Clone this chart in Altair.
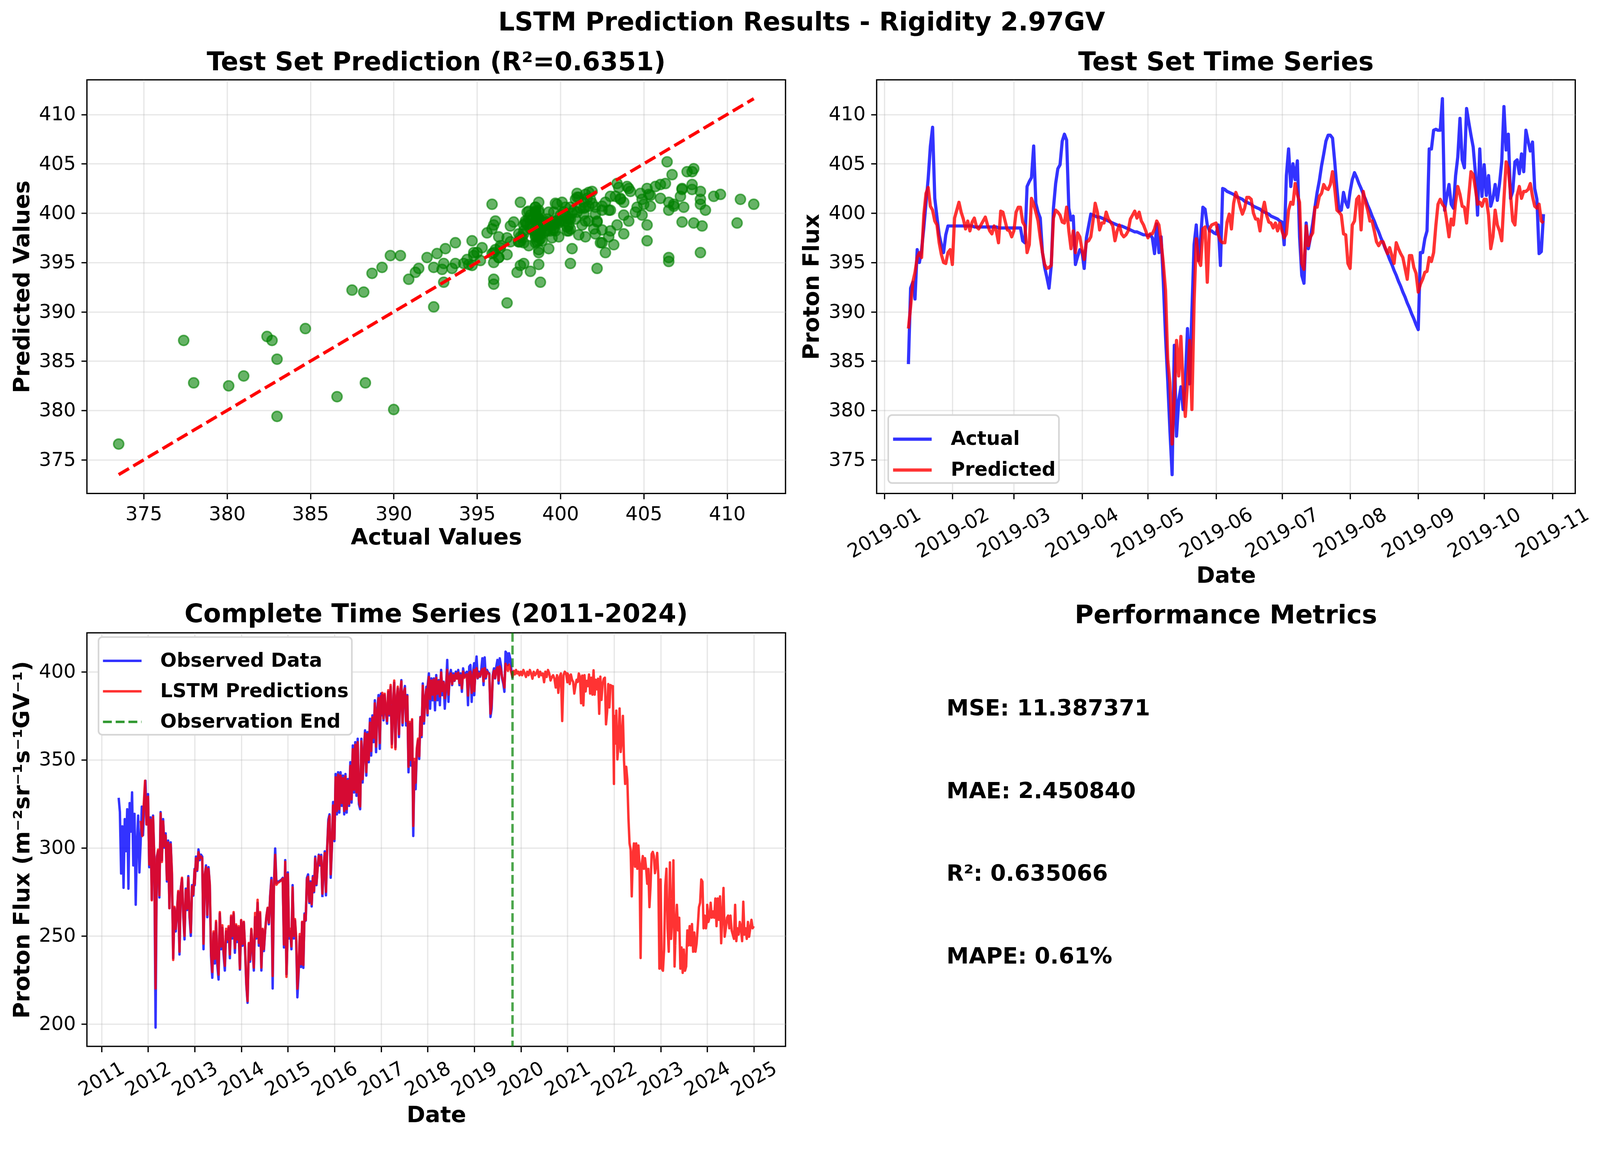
import altair as alt
import pandas as pd

FONT = "DejaVu Sans"
BLUE, RED, GREEN = "#0000ff", "#ff0000", "#008000"

# ---- test set, one value per day starting 2019-01-12 ----
test_start = "2019-01-12"
test_actual = [
    384.7, 392.4, 393.0, 391.3, 396.3, 395.0, 396.3, 398.5, 401.0, 403.5, 406.8, 408.7, 401.5, 399.6, 397.8, 396.8, 396.0, 397.8, 398.7,
    398.7, 398.7, 398.7, 398.7, 398.7, 398.7, 398.7, 398.7, 398.7, 398.7, 398.7, 398.6, 398.6, 398.6, 398.6, 398.6, 398.6, 398.6, 398.6,
    398.6, 398.6, 398.6, 398.5, 398.5, 398.5, 398.5, 398.5, 398.5, 398.5, 398.5, 398.5, 398.5, 398.5,
    397.2, 397.0, 402.7, 403.2, 403.6, 406.8, 401.0, 400.1, 399.5, 396.0, 394.5, 393.5, 392.4, 394.7, 400.5, 403.0, 404.5, 404.9,
    407.3, 408.0, 407.4, 400.5, 399.3, 399.7, 394.8, 395.6, 396.3, 396.1, 394.4, 397.5, 398.7, 399.9,
    399.8, 399.7, 399.6, 399.6, 399.5, 399.4, 399.3, 399.2, 399.1, 399.0, 398.9, 398.8, 398.7, 398.7, 398.6, 398.5, 398.4, 398.3,
    398.2, 398.1, 398.1, 398.0, 397.9, 397.8, 397.8, 397.7,
    397.8, 397.5, 395.9, 398.9, 396.0, 397.6, 393.0, 387.5, 383.0, 378.0, 373.5, 386.6, 377.4, 381.0, 382.4, 380.1, 383.0, 388.3,
    382.7, 390.0, 396.8, 398.8, 395.2, 397.6, 400.6, 400.4, 398.8, 398.2, 398.2, 398.0, 397.9, 398.8, 394.7,
    402.5, 402.4, 402.2, 402.1, 402.0, 401.9, 401.7, 401.6, 401.5, 401.4, 401.2, 401.1, 401.0, 400.9, 400.7, 400.6, 400.5, 400.4,
    400.2, 400.1, 400.0, 399.9, 399.7, 399.6, 399.5, 399.4, 399.2,
    399.1, 396.8, 403.8, 406.5, 402.7, 405.0, 403.4, 405.3, 397.6, 393.7, 392.9, 399.0, 396.4, 397.6, 399.0, 400.6, 402.1, 403.3,
    404.8, 406.0, 407.3, 407.9, 407.9, 407.6, 405.2, 402.5, 400.2, 400.3, 402.1, 401.1, 400.6, 402.2, 403.4, 404.1,
    403.6, 403.0, 402.5, 401.9, 401.4, 400.8, 400.3, 399.7, 399.2, 398.6, 398.1, 397.5, 397.0, 396.4, 395.9, 395.3, 394.8, 394.2,
    393.7, 393.1, 392.6, 392.0, 391.5, 390.9, 390.4, 389.8, 389.3, 388.7, 388.2,
    396.0, 396.0, 397.4, 398.2, 406.5, 406.5, 408.4, 408.5, 408.4, 408.4, 411.6, 400.3, 401.7, 402.9, 400.9, 400.5, 403.8, 405.7,
    409.6, 405.4, 404.6, 410.6, 409.2, 407.9, 406.7, 404.1, 399.8, 406.5, 401.7, 404.9, 401.8, 403.8, 400.7, 401.5, 402.9, 401.3,
    403.0, 405.2, 410.8, 406.4, 408.0, 401.5, 402.2, 405.2, 405.4, 404.0, 406.0, 404.2, 408.4, 407.3, 406.3, 407.2, 402.5, 401.4,
    395.9, 396.1, 399.9,
]
test_pred = [
    388.3, 390.5, 393.0, 394.0, 395.5, 396.0, 395.5, 399.8, 402.0, 402.6, 400.7, 400.3, 399.2, 398.8, 397.0, 395.8, 395.0, 394.9, 396.0,
    396.3, 394.8, 399.5, 400.3, 401.1, 400.1, 399.4, 398.4, 399.2, 398.2, 399.1, 399.5, 398.6, 398.4, 398.8, 399.2, 399.6, 398.8,
    398.2, 397.9, 398.7, 398.2, 397.0, 400.2, 400.1, 399.2, 398.3, 398.2, 397.6, 398.2, 400.1, 400.6, 400.6,
    399.1, 398.7, 396.0, 396.8, 401.5, 400.9, 400.1, 399.2, 397.5, 396.0, 394.8, 394.4, 394.5, 394.7, 399.5, 400.3, 400.1, 399.8,
    399.1, 399.0, 400.6, 398.2, 396.4, 398.2, 396.0, 398.0, 397.6, 396.3, 395.3, 397.1, 397.2, 397.6,
    399.2, 401.0, 400.1, 398.3, 399.0, 399.0, 400.1, 399.4, 399.1, 398.7, 397.2, 398.2, 398.8, 397.9, 397.6, 397.8, 398.2, 399.4,
    399.8, 400.2, 399.5, 400.1, 399.2, 398.8, 398.2, 397.5,
    397.9, 397.9, 398.4, 399.2, 398.8, 397.1, 394.9, 392.2, 385.2, 382.8, 376.6, 381.4, 387.1, 383.5, 387.5, 382.5, 379.4, 382.8,
    387.1, 380.1, 390.9, 397.4, 395.2, 394.7, 398.4, 398.6, 393.0, 398.4, 398.8, 398.9, 399.0, 397.8, 397.2,
    397.0,
    397.0, 399.1, 399.9, 398.4, 401.0, 402.1, 401.5, 400.6, 399.9, 400.5, 401.6, 401.6, 401.4, 400.0, 399.4, 399.4, 398.2, 400.1,
    401.1, 399.8, 399.1, 399.0, 398.5, 399.0, 398.2, 399.0,
    398.2, 397.5, 397.9, 400.3, 401.1, 400.9, 403.0, 401.9, 401.1, 394.9, 394.3, 398.7, 396.7, 397.6, 398.0, 400.6, 400.6, 401.7,
    402.0, 402.9, 402.5, 402.4, 402.9, 404.2, 402.5, 400.3, 400.1, 399.8, 397.9, 397.8, 394.9, 394.4, 398.8, 399.2,
    401.4, 401.7, 398.3, 402.2, 401.1, 400.3, 399.2, 399.2, 398.2, 397.1, 396.7, 397.1, 397.1, 396.5, 395.9, 396.5, 395.7, 394.9,
    397.0, 396.4, 395.9, 395.5, 394.4, 393.3, 395.7, 395.7, 394.5, 393.9, 392.0,
    392.8, 393.3, 394.0, 394.1, 395.5, 395.1, 396.0, 398.7, 400.9, 401.4, 400.9, 400.6, 399.2, 397.6, 399.4, 398.8, 401.1, 402.7,
    401.9, 400.7, 400.6, 399.0, 401.7, 404.2, 403.9, 402.5, 400.9, 401.1, 400.7, 401.4, 401.4, 399.8, 396.4, 397.6, 400.3, 398.8,
    398.2, 397.2, 401.4, 405.2, 404.5, 401.9, 399.2, 398.8, 401.8, 402.7, 401.5, 402.2, 402.2, 402.4, 403.0, 401.7, 400.7, 400.5,
    400.9, 399.2, 399.0,
]

# ---- complete series, values read per calendar year (evenly spread over the year) ----
obs_2011 = [328.4, 320.3, 285.4, 312.2, 277.3, 316.3, 298.1, 321.9, 276.8, 325.4, 309.2, 331.5, 290.0, 319.3, 267.7, 303.1,
            318.3, 286.0, 302.1, 323.4, 307.2, 325.4, 338.1, 313.3, 324.4]
obs_2012 = [330.5, 289.0, 317.3, 270.7, 318.3, 293.0, 197.9, 295.0, 298.1, 271.8, 320.3, 293.0, 316.3, 300.1, 308.2, 280.9,
            304.1, 265.7, 303.1, 284.9, 237.3, 265.7, 252.5, 263.7, 274.8, 239.4, 276.8, 282.4, 261.6, 248.0, 276.8, 264.7,
            283.9, 260.6, 250.0, 278.8, 272.8, 288.0]
obs_2013 = [278.8, 295.0, 286.9, 299.1, 293.0, 296.1, 295.0, 242.4, 283.9, 290.0, 260.6, 289.0, 278.8, 238.4, 226.2, 251.5,
            234.3, 257.6, 233.3, 225.2, 262.7, 242.4, 254.6, 239.4, 230.3, 252.5, 246.5, 254.6, 237.3, 260.6, 248.5, 262.7,
            240.4, 255.6, 246.5, 254.6, 230.8, 258.6]
obs_2014 = [256.6, 244.4, 257.6, 242.4, 222.2, 212.0, 245.4, 235.3, 253.5, 242.4, 230.3, 260.6, 248.5, 268.7, 244.4, 262.7,
            230.3, 253.5, 241.4, 252.5, 260.6, 265.7, 256.6, 272.8, 282.9, 220.1, 278.8, 299.6, 279.9, 280.9, 280.9, 281.4,
            281.9, 282.9, 243.4, 293.0, 228.2, 253.5]
obs_2015 = [286.0, 248.5, 252.5, 242.4, 278.8, 248.5, 258.6, 247.5, 215.1, 228.2, 249.5, 232.3, 257.6, 231.8, 262.7, 258.6,
            282.9, 284.9, 268.7, 280.9, 266.7, 283.9, 274.8, 295.0, 278.8, 289.0, 296.1, 290.0, 296.0, 272.0, 288.0, 298.0,
            273.0, 300.0, 316.0, 319.0, 283.0, 300.0, 326.0, 304.0]
obs_2016 = [303.8, 341.9, 319.0, 342.9, 320.0, 342.9, 323.8, 341.0, 319.0, 341.9, 320.0, 339.0, 323.8, 348.6, 325.7, 358.1,
            331.4, 360.0, 329.5, 361.9, 324.8, 321.9, 361.9, 337.1, 354.3, 366.7, 341.0, 365.7, 348.6, 373.3, 352.4, 375.2,
            360.0, 383.8, 354.3, 378.8, 386.7, 356.2, 387.6]
obs_2017 = [375.2, 386.7, 372.4, 386.7, 377.1, 370.5, 388.6, 375.2, 391.4, 359.0, 379.0, 393.8, 357.1, 383.8, 390.5, 362.9,
            386.7, 395.2, 369.5, 387.6, 391.9, 369.5, 386.7, 342.9, 370.5, 346.7, 372.4, 306.7, 348.6, 333.3, 355.2, 361.0,
            350.5, 374.3, 362.9, 393.3, 370.5, 383.8, 391.4, 375.2]
obs_2018 = [392.4, 399.0, 379.0, 396.2, 383.8, 396.2, 378.1, 398.1, 383.8, 395.2, 381.0, 401.0, 386.7, 394.3, 379.0, 390.5,
            406.7, 382.9, 398.1, 401.0, 392.4, 399.0, 394.8, 400.0, 396.2, 401.0, 392.4, 399.0, 388.6, 401.9, 397.1, 399.0,
            400.0, 381.0, 402.9, 403.8, 382.9, 399.0, 404.8]
obs_2019 = [386.7, 401.0, 408.6, 396.2, 400.0, 397.1, 401.0, 407.6, 392.4, 408.1, 396.2, 401.0, 399.5, 399.0, 374.3, 379.0,
            398.1, 401.9, 396.2, 402.9, 406.7, 393.3, 407.6, 403.8, 396.2, 393.3, 388.6, 411.4, 410.5, 403.8, 410.5, 407.6,
            401.0, 396.2]

pred_2011 = [315.3, 306.7, 323.4, 338.1, 313.3, 326.4]
pred_2012 = [329.0, 290.5, 316.0, 270.2, 317.5, 294.0, 220.1, 294.0, 299.0, 273.0, 319.5, 292.0, 315.0, 301.0, 307.0, 282.0,
             303.0, 265.7, 302.0, 286.0, 236.3, 266.5, 254.0, 263.0, 275.5, 241.0, 276.0, 283.0, 262.5, 250.0, 276.0, 265.5,
             283.0, 262.0, 252.0, 278.0, 273.5, 287.5]
pred_2013 = [279.5, 294.0, 287.5, 297.5, 294.0, 295.0, 294.0, 245.5, 284.5, 289.0, 262.0, 288.0, 279.5, 241.0, 229.5, 252.5,
             237.0, 258.5, 236.5, 228.0, 263.5, 244.0, 256.0, 241.5, 233.0, 254.0, 248.0, 255.5, 239.5, 261.5, 250.0, 263.5,
             243.0, 256.5, 248.0, 255.5, 231.5, 259.0]
pred_2014 = [257.5, 245.5, 258.0, 243.5, 223.5, 213.0, 246.0, 236.5, 254.0, 243.5, 232.0, 263.0, 249.5, 270.5, 246.0, 263.5,
             232.0, 254.0, 242.5, 253.0, 261.0, 266.0, 257.5, 272.0, 281.5, 227.2, 277.5, 296.0, 279.0, 280.0, 280.5, 281.0,
             281.5, 282.5, 245.0, 292.0, 226.7, 254.0]
pred_2015 = [285.0, 250.0, 254.0, 244.0, 277.5, 250.0, 259.5, 249.0, 220.0, 230.0, 251.0, 234.0, 258.0, 233.5, 262.0, 259.0,
             282.0, 283.5, 269.5, 280.0, 268.0, 283.0, 275.5, 294.0, 279.5, 288.0, 295.5, 291.0, 295.0, 274.0, 289.0, 297.0,
             275.0, 299.0, 314.0, 318.0, 285.0, 301.0, 324.0, 305.0]
pred_2016 = [305.0, 340.0, 321.0, 341.5, 322.0, 341.0, 325.5, 339.5, 321.0, 340.5, 322.0, 338.0, 325.0, 346.5, 327.5, 356.0,
             333.0, 358.5, 331.5, 360.0, 327.0, 323.5, 360.5, 339.0, 353.0, 365.0, 343.0, 364.5, 350.0, 371.0, 355.0, 374.0,
             362.5, 382.0, 357.5, 377.5, 385.0, 359.5, 386.0]
pred_2017 = [376.0, 388.0, 373.5, 387.5, 378.0, 372.0, 389.5, 376.0, 392.5, 357.0, 380.0, 395.0, 356.0, 384.5, 391.5, 364.5,
             387.5, 394.5, 371.0, 388.0, 390.5, 372.0, 386.0, 346.0, 371.5, 350.0, 373.0, 312.4, 350.5, 337.0, 356.5, 362.0,
             352.0, 374.0, 364.0, 392.0, 372.0, 384.5, 390.0, 376.5]
pred_2018 = [390.5, 397.0, 384.5, 395.0, 387.0, 395.5, 384.0, 396.5, 387.5, 394.5, 386.0, 399.5, 389.0, 394.0, 385.0, 391.5,
             401.0, 387.0, 397.0, 399.0, 393.0, 398.0, 395.0, 399.0, 396.0, 399.5, 393.5, 398.0, 390.5, 400.0, 396.5, 398.0,
             398.5, 386.5, 399.5, 400.0, 388.0, 397.5, 401.0]
pred_2019 = [389.0, 399.0, 402.0, 396.5, 399.0, 397.5, 400.0, 401.5, 394.5, 402.0, 397.0, 400.0, 399.0, 398.5, 376.2, 382.0,
             397.5, 400.5, 396.5, 401.0, 402.5, 395.0, 403.0, 401.0, 397.0, 394.5, 391.0, 404.5, 403.0, 400.5, 404.0, 402.0,
             399.5, 397.0, 400.5, 398.5, 401.0, 399.0, 400.0, 398.0, 399.5]
pred_2020 = [400.0, 398.0, 401.0, 399.0, 397.0, 400.0, 398.0, 401.0, 399.0, 396.0, 400.0, 398.0, 399.0, 401.0, 397.0, 400.0,
             398.0, 399.0, 394.0, 400.0, 397.0, 401.0, 399.0, 395.0, 397.0, 398.0, 396.0, 391.0, 398.0, 388.0, 397.0, 399.0,
             372.0, 398.0, 400.0, 399.0, 394.0]
pred_2021 = [399.0, 397.8, 393.0, 398.4, 395.4, 394.2, 387.6, 391.8, 395.4, 394.2, 399.0, 397.0, 382.1, 397.8, 380.9, 398.0,
             388.8, 394.8, 391.8, 398.4, 387.6, 396.6, 387.0, 400.8, 387.0, 395.4, 390.0, 396.0, 376.1, 397.2, 384.0, 393.0,
             396.0, 396.6, 370.1, 377.3, 393.0, 379.7, 392.4, 391.8, 391.8, 336.3]
pred_2022 = [374.9, 359.2, 377.9, 350.2, 359.2, 379.1, 354.4, 361.6, 374.9, 349.6, 336.3, 346.0, 338.7, 317.0, 302.5, 298.9,
             272.4, 296.5, 302.5, 289.3, 302.5, 288.1, 301.3, 290.5, 237.4, 290.5, 295.3, 288.1, 294.1, 288.1, 279.6, 288.0,
             266.3, 278.4, 296.5, 297.7, 295.3, 285.6, 290.5, 297.1, 284.4, 231.4, 254.3]
pred_2023 = [282.0, 231.4, 230.2, 242.2, 278.4, 288.1, 254.3, 241.0, 291.7, 248.3, 260.3, 292.9, 232.6, 254.3, 267.6, 253.1,
             260.3, 231.4, 243.4, 229.0, 242.2, 230.2, 232.6, 253.1, 244.6, 255.5, 244.6, 256.7, 241.0, 251.9, 241.0, 245.8,
             255.5, 266.3, 268.8, 282.0, 280.8, 254.3, 261.5, 254.3, 259.1]
pred_2024 = [267.6, 257.9, 260.3, 268.8, 260.3, 263.9, 260.3, 271.2, 255.5, 271.2, 259.1, 272.4, 245.8, 261.5, 277.2, 249.5,
             254.3, 260.3, 261.5, 254.3, 261.5, 253.1, 250.7, 248.3, 267.6, 247.0, 254.3, 250.7, 257.9, 254.3, 247.0, 269.4,
             250.7, 254.3, 248.3, 257.9, 249.5, 254.3, 259.1, 254.3, 255.5]

obs_first, obs_end, pred_first = "2011-05-16", "2019-10-28", "2011-11-05"

metric_lines = ["MSE: 11.387371", "MAE: 2.450840", "R²: 0.635066", "MAPE: 0.61%"]

W, H = 1809, 1071
LW_TEST, LW_FULL = 8.3, 6.25
TITLE_OFFSET = -42  # vega puts the title about one font size higher than the offset says


def spread(values, start, end, name):
    return pd.DataFrame({"date": pd.date_range(start, end, periods=len(values)),
                         "flux": values, "series": name})


def padded(lo, hi):
    d = (hi - lo) * 0.05
    return lo - d, hi + d


def dt(ts):
    return alt.DateTime(year=ts.year, month=ts.month, date=ts.day, hours=ts.hour, minutes=ts.minute)


def panel_title(text):
    return alt.TitleParams(text, anchor="middle", frame="group", baseline="alphabetic", offset=TITLE_OFFSET)


# ---------- 1: scatter ----------
lo, hi = min(test_actual + test_pred), max(test_actual + test_pred)
flux_dom = list(padded(lo, hi))
flux_ticks = list(range(375, 411, 5))

scatter_df = pd.DataFrame({"actual": test_actual, "predicted": test_pred})
diag_df = pd.DataFrame({"actual": [min(test_actual), max(test_actual)],
                        "predicted": [min(test_actual), max(test_actual)]})

sx = alt.X("actual:Q", scale=alt.Scale(domain=flux_dom, nice=False, zero=False),
           axis=alt.Axis(values=flux_ticks, title="Actual Values", titleY=132, titleBaseline="alphabetic"))
sy = alt.Y("predicted:Q", scale=alt.Scale(domain=flux_dom, nice=False, zero=False),
           axis=alt.Axis(values=flux_ticks, title="Predicted Values", titleX=-150, titleBaseline="alphabetic"))

dots = alt.Chart(scatter_df).mark_circle(size=680, fill=GREEN, fillOpacity=0.6, stroke=GREEN,
                                         strokeOpacity=0.6, strokeWidth=4).encode(x=sx, y=sy)
diag = alt.Chart(diag_df).mark_line(color=RED, strokeWidth=8.3, strokeDash=[31, 13]).encode(x=sx, y=sy)
p1 = alt.layer(dots, diag).properties(width=W, height=H, title=panel_title("Test Set Prediction (R²=0.6351)"))

# ---------- 2: test time series ----------
test_dates = pd.date_range(test_start, periods=len(test_actual), freq="D")
act_df = pd.DataFrame({"date": test_dates, "flux": test_actual, "series": "Actual"})
prd_df = pd.DataFrame({"date": test_dates, "flux": test_pred, "series": "Predicted"})
t_lo, t_hi = padded(test_dates[0], test_dates[-1])

tx = alt.X("date:T", scale=alt.Scale(domain=[dt(t_lo), dt(t_hi)]),
           axis=alt.Axis(values=[alt.DateTime(year=2019, month=m, date=1) for m in range(1, 12)],
                         format="%Y-%m", labelAngle=330, labelAlign="center", labelBaseline="middle",
                         labelPadding=88, labelOverlap=False, labelFlush=False,
                         title="Date", titleY=231, titleBaseline="alphabetic"))
ty = alt.Y("flux:Q", scale=alt.Scale(domain=flux_dom, nice=False, zero=False),
           axis=alt.Axis(values=flux_ticks, title="Proton Flux", titleX=-150, titleBaseline="alphabetic"))
tc = alt.Color("series:N", title=None,
               scale=alt.Scale(domain=["Actual", "Predicted"], range=[BLUE, RED]),
               legend=alt.Legend(orient="none", legendX=30, legendY=868, symbolStrokeWidth=LW_TEST,
                                 symbolSize=10000, labelOffset=45, padding=8))
line_a = alt.Chart(act_df).mark_line(strokeWidth=LW_TEST, opacity=0.8, strokeJoin="round").encode(x=tx, y=ty, color=tc)
line_p = alt.Chart(prd_df).mark_line(strokeWidth=LW_TEST, opacity=0.8, strokeJoin="round").encode(x=tx, y=ty, color=tc)
p2 = alt.layer(line_a, line_p).properties(width=W, height=H, title=panel_title("Test Set Time Series"))

# ---------- 3: complete series ----------
obs_years = [obs_2011, obs_2012, obs_2013, obs_2014, obs_2015, obs_2016, obs_2017, obs_2018, obs_2019]
pred_years = [pred_2011, pred_2012, pred_2013, pred_2014, pred_2015, pred_2016, pred_2017, pred_2018,
              pred_2019, pred_2020, pred_2021, pred_2022, pred_2023, pred_2024]


def year_span(i, year, n_years, first, last):
    start = first if i == 0 else f"{year}-01-01"
    end = last if i == n_years - 1 else f"{year}-12-31"
    return start, end


obs_df = pd.concat([spread(v, *year_span(i, 2011 + i, len(obs_years), obs_first, obs_end), "Observed Data")
                    for i, v in enumerate(obs_years)], ignore_index=True)
pred_df = pd.concat([spread(v, *year_span(i, 2011 + i, len(pred_years), pred_first, "2024-12-31"), "LSTM Predictions")
                     for i, v in enumerate(pred_years)], ignore_index=True)
end_df = pd.DataFrame({"date": [pd.Timestamp(obs_end)], "series": ["Observation End"]})

f_lo, f_hi = padded(min(obs_df.flux.min(), pred_df.flux.min()), max(obs_df.flux.max(), pred_df.flux.max()))
d_lo, d_hi = padded(obs_df.date.min(), pred_df.date.max())

fx = alt.X("date:T", scale=alt.Scale(domain=[dt(d_lo), dt(d_hi)]),
           axis=alt.Axis(values=[alt.DateTime(year=y, month=1, date=1) for y in range(2011, 2026)],
                         format="%Y", labelAngle=330, labelAlign="center", labelBaseline="middle",
                         labelPadding=70, labelOverlap=False, labelFlush=False,
                         title="Date", titleY=196, titleBaseline="alphabetic"))
fy = alt.Y("flux:Q", scale=alt.Scale(domain=[f_lo, f_hi], nice=False, zero=False),
           axis=alt.Axis(values=[200, 250, 300, 350, 400], title="Proton Flux (m⁻²sr⁻¹s⁻¹GV⁻¹)",
                         titleX=-150, titleBaseline="alphabetic"))
names = ["Observed Data", "LSTM Predictions", "Observation End"]
full_legend = alt.Legend(orient="none", legendX=30, legendY=11, symbolStrokeWidth=LW_FULL,
                         symbolSize=10000, labelOffset=45, padding=8)
fc = alt.Color("series:N", title=None, scale=alt.Scale(domain=names, range=[BLUE, RED, GREEN]), legend=full_legend)
fd = alt.StrokeDash("series:N", title=None, scale=alt.Scale(domain=names, range=[[1, 0], [1, 0], [23, 10]]),
                    legend=full_legend)
obs_line = alt.Chart(obs_df).mark_line(strokeWidth=LW_FULL, opacity=0.8, strokeJoin="round").encode(
    x=fx, y=fy, color=fc, strokeDash=fd)
pred_line = alt.Chart(pred_df).mark_line(strokeWidth=LW_FULL, opacity=0.8, strokeJoin="round").encode(
    x=fx, y=fy, color=fc, strokeDash=fd)
end_rule = alt.Chart(end_df).mark_rule(strokeWidth=LW_FULL, opacity=0.7).encode(x=fx, color=fc, strokeDash=fd)
p3 = alt.layer(obs_line, pred_line, end_rule).properties(
    width=W, height=H, title=panel_title("Complete Time Series (2011-2024)"))

# ---------- 4: metrics text ----------
metrics_df = pd.DataFrame({"label": metric_lines})
p4 = alt.Chart(metrics_df).mark_text(align="left", baseline="alphabetic", font=FONT, fontSize=58,
                                     fontWeight="bold", color="black").encode(
    x=alt.XDatum(0.1, type="quantitative", scale=alt.Scale(domain=[0, 1]), axis=None),
    y=alt.Y("label:N", sort=None, scale=alt.Scale(type="point", padding=1), axis=None),
    text="label:N",
).properties(width=W, height=H, title=panel_title("Performance Metrics"),
             view=alt.ViewBackground(strokeOpacity=0))

chart = alt.concat(
    p1, p2, p3, p4, columns=2, spacing={"row": 361, "column": 236}, bounds="flush",
    title=alt.TitleParams("LSTM Prediction Results - Rigidity 2.97GV", anchor="middle",
                          baseline="alphabetic", offset=-18),
).resolve_scale(
    x="independent", y="independent", color="independent", strokeDash="independent"
).properties(
    padding={"left": 19, "top": 0, "right": 10, "bottom": 10}
).configure_view(
    stroke="black", strokeWidth=3.3
).configure_axis(
    labelFont=FONT, labelFontSize=50, labelColor="black", labelPadding=14.6, labelLimit=2000,
    titleFont=FONT, titleFontSize=58, titleFontWeight="bold", titleColor="black",
    tickColor="black", tickSize=14.6, tickWidth=3.3, domain=False,
    gridColor="#b0b0b0", gridOpacity=0.3, gridWidth=3.3,
).configure_title(
    font=FONT, fontSize=66.7, fontWeight="bold", color="black"
).configure_legend(
    labelFont=FONT, labelFontSize=50, labelFontWeight="bold", labelColor="black", labelLimit=2000,
    symbolType="stroke", symbolOpacity=0.8, fillColor="white", strokeColor="#d6d6d6",
    strokeWidth=4.2, cornerRadius=10, rowPadding=-28,
)

chart.save("out.html", embed_options={"renderer": "svg", "actions": False})
